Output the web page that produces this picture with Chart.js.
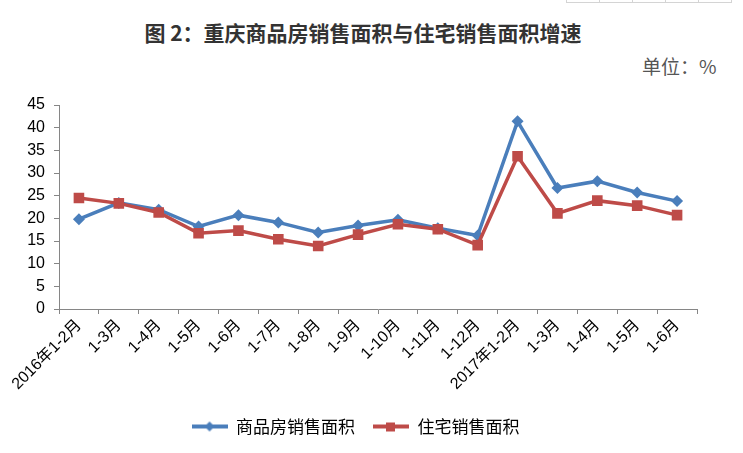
<!DOCTYPE html>
<html>
<head>
<meta charset="utf-8">
<script src="https://cdn.jsdelivr.net/npm/chart.js@4"></script>
<style>
  html, body { margin: 0; padding: 0; background: #fff; }
  #wrap { position: relative; width: 743px; height: 453px; overflow: hidden; }
  #title {
    position: absolute; left: 0; width: 726px; top: 17px; text-align: center;
    font: bold 21px "Noto Sans CJK SC", sans-serif; color: #333;
  }
  #unit {
    position: absolute; left: 642px; top: 52px;
    font: 19px "Noto Sans CJK SC", sans-serif; color: #555;
  }
  #cells { position: absolute; left: 566px; top: -1px; display: flex; }
  #cells div { width: 32px; height: 2px; border: 1px solid #d4d4d4; border-right: none; }
  #cells div:last-child { border-right: 1px solid #d4d4d4; }
  canvas { position: absolute; left: 0; top: 0; }
</style>
</head>
<body>
<div id="wrap">
  <div id="cells"><div></div><div></div><div></div><div></div><div></div></div>
  <div id="title">图 2：重庆商品房销售面积与住宅销售面积增速</div>
  <div id="unit">单位：%</div>
  <canvas id="chart" width="743" height="453"></canvas>
</div>
<script>
// 数据
const months = ['2016年1-2月', '1-3月', '1-4月', '1-5月', '1-6月', '1-7月', '1-8月', '1-9月',
                '1-10月', '1-11月', '1-12月', '2017年1-2月', '1-3月', '1-4月', '1-5月', '1-6月'];
const commercialArea = [19.8, 23.4, 21.9, 18.2, 20.7, 19.1, 16.9, 18.4, 19.7, 17.8, 16.2, 41.4, 26.7, 28.2, 25.7, 23.8];
const residentialArea = [24.5, 23.3, 21.3, 16.7, 17.3, 15.4, 13.9, 16.4, 18.7, 17.6, 14.1, 33.7, 21.1, 23.9, 22.8, 20.7];
const yMin = 0, yMax = 45, yStep = 5;

const blue = '#4A7EBB';
const red = '#BE4B48';
const axisGray = '#868686';

// Ikona legendy: linia z markerem
function legendIcon(color, style) {
    const c = document.createElement('canvas');
    c.width = 36; c.height = 14;
    const ctx = c.getContext('2d');
    ctx.strokeStyle = color;
    ctx.lineWidth = 4;
    ctx.beginPath();
    ctx.moveTo(0, 7); ctx.lineTo(36, 7);
    ctx.stroke();
    ctx.fillStyle = color;
    if (style === 'diamond') {
        ctx.beginPath();
        ctx.moveTo(18, 2); ctx.lineTo(23, 7); ctx.lineTo(18, 12); ctx.lineTo(13, 7);
        ctx.closePath(); ctx.fill();
    } else {
        ctx.fillRect(13, 3, 9, 9);
    }
    return c;
}

const ctx = document.getElementById('chart').getContext('2d');
new Chart(ctx, {
    type: 'line',
    data: {
        labels: months,
        datasets: [{
            label: '商品房销售面积',
            data: commercialArea,
            borderColor: blue,
            backgroundColor: blue,
            borderWidth: 3.5,
            pointStyle: 'rectRot',
            pointRadius: 6,
            pointHoverRadius: 6,
            pointBorderWidth: 0,
            tension: 0,
            order: 1
        }, {
            label: '住宅销售面积',
            data: residentialArea,
            borderColor: red,
            backgroundColor: red,
            borderWidth: 3.5,
            pointStyle: 'rect',
            pointRadius: 7.5,
            pointHoverRadius: 7.5,
            pointBorderWidth: 0,
            tension: 0,
            order: 0
        }]
    },
    options: {
        responsive: false,
        animation: false,
        layout: { padding: { top: 105, right: 46, left: 14, bottom: 8 } },
        plugins: {
            title: { display: false },
            tooltip: { enabled: false },
            legend: {
                position: 'bottom',
                labels: {
                    usePointStyle: true,
                    pointStyleWidth: 36,
                    boxHeight: 14,
                    padding: 18,
                    color: '#000',
                    font: { family: '"Noto Sans CJK SC", sans-serif', size: 17 },
                    sort: (a, b) => a.datasetIndex - b.datasetIndex,
                    generateLabels: (chart) => chart.data.datasets.map((ds, i) => ({
                        text: ds.label,
                        datasetIndex: i,
                        fontColor: '#000',
                        lineWidth: 0,
                        pointStyle: legendIcon(ds.borderColor, i === 0 ? 'diamond' : 'square')
                    }))
                }
            }
        },
        scales: {
            x: {
                offset: true,
                grid: {
                    offset: true,
                    drawOnChartArea: false,
                    drawTicks: true,
                    tickLength: 5,
                    color: axisGray
                },
                border: { color: axisGray, width: 1 },
                ticks: {
                    autoSkip: false,
                    minRotation: 45,
                    maxRotation: 45,
                    color: '#000',
                    padding: 2,
                    font: { family: '"Liberation Sans", "Noto Sans CJK SC", sans-serif', size: 16 }
                },
                afterFit: (scale) => { scale.height = 91; }
            },
            y: {
                min: yMin,
                max: yMax,
                grid: {
                    drawOnChartArea: false,
                    drawTicks: true,
                    tickLength: 5,
                    color: axisGray
                },
                border: { color: axisGray, width: 1 },
                ticks: {
                    stepSize: yStep,
                    color: '#000',
                    padding: 9,
                    font: { family: '"Liberation Sans", sans-serif', size: 16 }
                },
                afterFit: (scale) => { scale.width = 45; }
            }
        }
    }
});
</script>
</body>
</html>
